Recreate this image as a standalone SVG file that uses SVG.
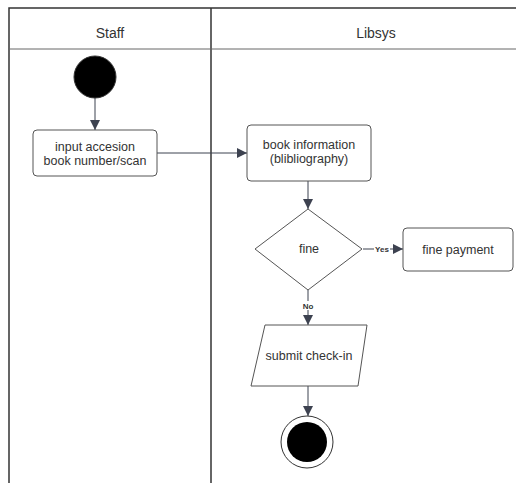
<svg xmlns="http://www.w3.org/2000/svg" width="516" height="483" viewBox="0 0 516 483">
  <defs>
    <marker id="arrow" viewBox="0 0 10 10" refX="10" refY="5" markerWidth="10" markerHeight="10" markerUnits="userSpaceOnUse" orient="auto">
      <path d="M0,0 L10,5 L0,10 z" fill="#3d4250"/>
    </marker>
    <style>
      .lane { fill: none; stroke: #333; stroke-width: 1.5; }
      .hdr { stroke: #666; stroke-width: 1; }
      .node { fill: #fff; stroke: #555; stroke-width: 1; }
      .edge { fill: none; stroke: #3d4250; stroke-width: 1; marker-end: url(#arrow); }
      .t { font-family: "Liberation Sans", Arial, sans-serif; font-size: 12.5px; fill: #333; text-anchor: middle; }
      .h { font-family: "Liberation Sans", Arial, sans-serif; font-size: 14px; fill: #333; text-anchor: middle; }
      .lbl { font-family: "Liberation Sans", Arial, sans-serif; font-size: 8px; font-weight: bold; fill: #333; text-anchor: middle; }
    </style>
  </defs>
  <rect width="516" height="483" fill="#fff"/>

  <!-- swimlanes -->
  <g id="lanes">
    <path class="lane" d="M9,483 V8 H516"/>
    <line class="lane" x1="211" y1="8" x2="211" y2="483"/>
    <line class="hdr" x1="9" y1="49" x2="516" y2="49"/>
    <text class="h" x="110" y="38">Staff</text>
    <text class="h" x="376" y="38">Libsys</text>
  </g>

  <!-- connectors -->
  <g id="connectors">
    <line class="edge" x1="95" y1="98" x2="95" y2="130"/>
    <line class="edge" x1="157" y1="153" x2="247" y2="153"/>
    <line class="edge" x1="308" y1="181" x2="308" y2="209"/>
    <line class="edge" x1="363" y1="249" x2="403" y2="249"/>
    <line class="edge" x1="308" y1="290" x2="308" y2="325"/>
    <line class="edge" x1="308" y1="386" x2="308" y2="416"/>
    <rect x="374" y="244" width="16" height="9" fill="#fff"/>
    <text class="lbl" x="382" y="252">Yes</text>
    <rect x="301" y="301" width="14" height="9" fill="#fff"/>
    <text class="lbl" x="308" y="309">No</text>
  </g>

  <g id="start">
    <circle cx="95" cy="77" r="21" fill="#000" stroke="#333"/>
  </g>

  <g id="input-accession">
    <rect class="node" x="33" y="130" width="124" height="46" rx="4"/>
    <text class="t" x="95" y="151">input accesion</text>
    <text class="t" x="95" y="165">book number/scan</text>
  </g>

  <g id="book-information">
    <rect class="node" x="247" y="125" width="124" height="56" rx="4"/>
    <text class="t" x="309" y="149">book information</text>
    <text class="t" x="309" y="163">(blibliography)</text>
  </g>

  <g id="fine">
    <path class="node" d="M308,209 L362,249 L308,290 L255,249 Z" stroke-linejoin="round"/>
    <text class="t" x="309" y="253">fine</text>
  </g>

  <g id="fine-payment">
    <rect class="node" x="403" y="228" width="110" height="43" rx="4"/>
    <text class="t" x="458" y="254">fine payment</text>
  </g>

  <g id="submit-check-in">
    <path class="node" d="M265,325 H367 L358,386 H251 Z" stroke-linejoin="round"/>
    <text class="t" x="309" y="360">submit check-in</text>
  </g>

  <g id="end">
    <circle cx="307" cy="442" r="26" fill="#fff" stroke="#333"/>
    <circle cx="307" cy="442" r="20" fill="#000"/>
  </g>
</svg>
